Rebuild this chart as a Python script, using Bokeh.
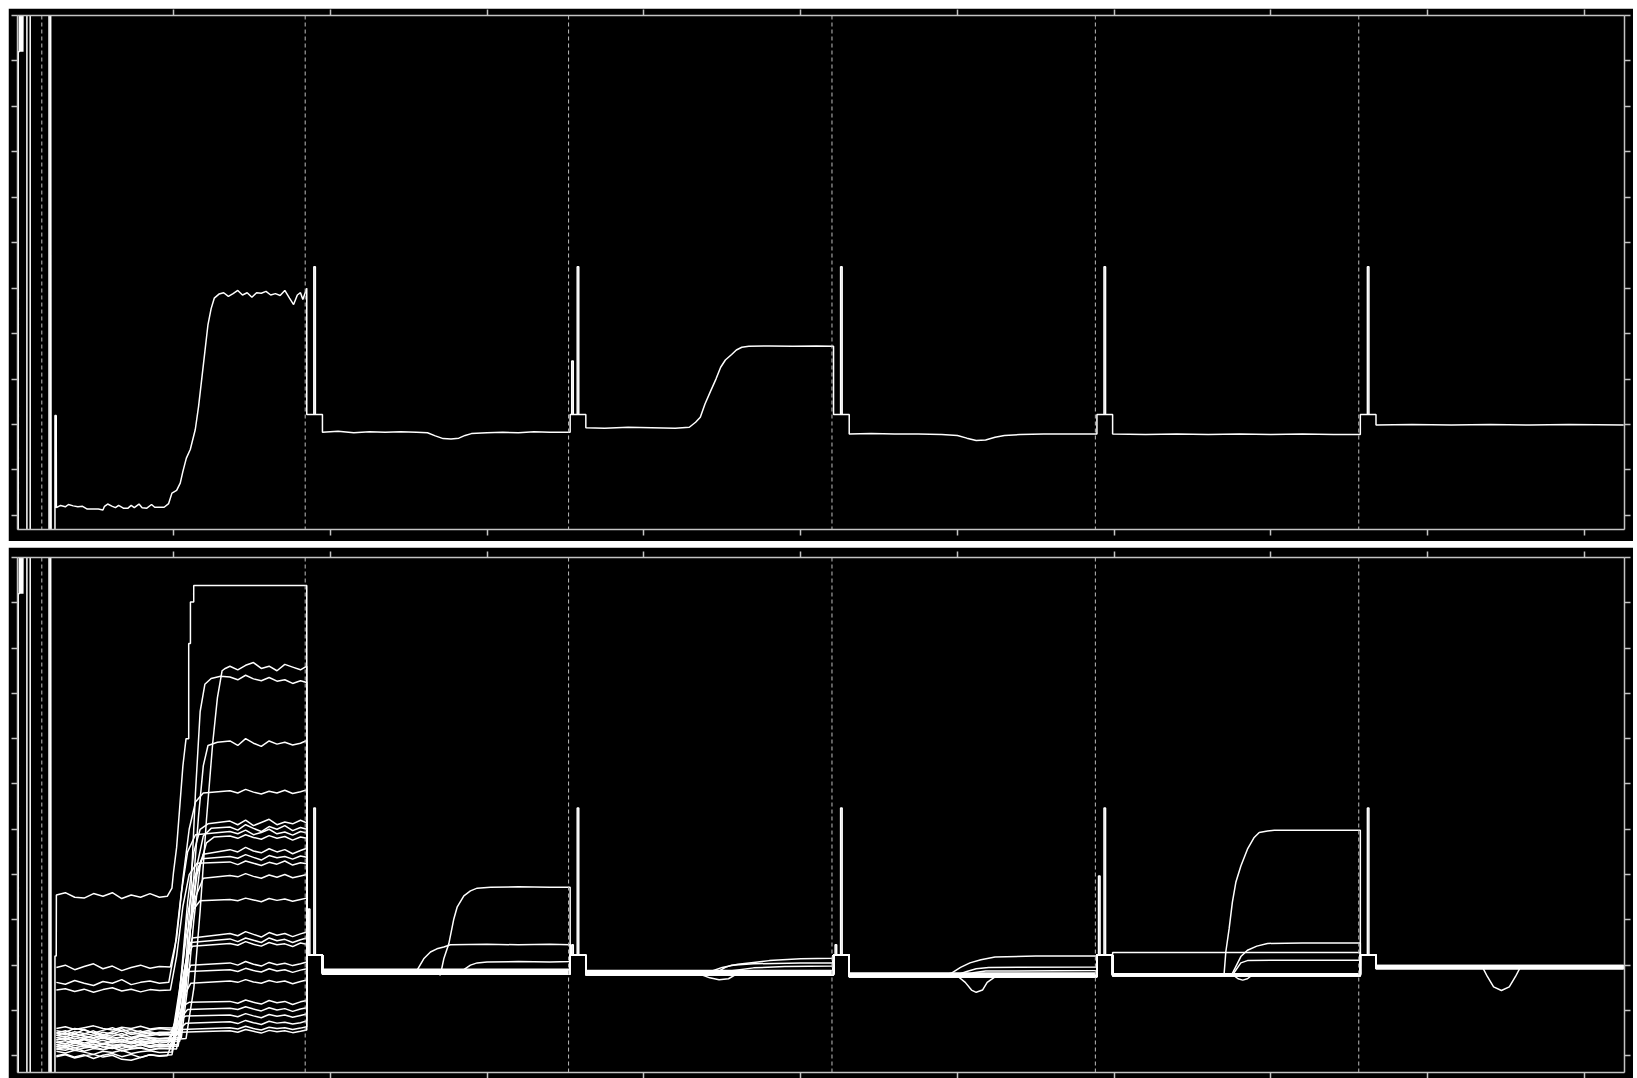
from bokeh.plotting import figure
from bokeh.models import Range1d, FixedTicker, LinearAxis, Span
from bokeh.layouts import column
from bokeh.embed import file_html
from bokeh.resources import INLINE

# ---------------- data ----------------
EPOCH_STARTS = [16, 184, 352, 520, 688, 856]
X_FIRST, X_LAST = 0.5, 1025.5
STEP_LEVEL = 2.22
SPIKE_LEVEL = 5.47
STEP_ON, STEP_OFF = 1, 11          # samples after an epoch start
SPIKE_ON, SPIKE_OFF = 5.5, 6.5
SEC_ON, SEC_OFF = 2.0, 3.0
X_TICKS = [100, 200, 300, 400, 500, 600, 700, 800, 900, 1000]
Y_TICKS = [0, 1, 2, 3, 4, 5, 6, 7, 8, 9, 10, 11]
TOP_Y_START, BOTTOM_Y_START, Y_END = -0.31, -0.37, 11.0

# start-up transient (values off the chart)
START_TRANSIENT = [(1.0, -3), (1.0, 10.2), (1.6, 10.2), (1.9, 14), (2.3, 10.2), (2.7, 14),
                   (3.1, 10.2), (3.5, 14), (3.9, 10.2), (4.2, 14), (6.5, 14), (6.5, -3),
                   (8.6, -3), (8.6, 14), (20.6, 14), (20.6, -3), (21.6, -3), (21.6, 14),
                   (22.0, -3), (24.4, -3), (24.4, 2.2), (25.2, 2.2)]

# ---- top panel: single signal, one list per epoch
TOP_E0 = [(25.3, 0.17), (28, 0.22), (31, 0.19), (33, 0.24), (36, 0.21), (39, 0.19), (42, 0.2),
          (45, 0.14), (48, 0.14), (52, 0.14), (55, 0.12), (56, 0.2), (58, 0.25), (61, 0.2),
          (63, 0.17), (65, 0.22), (68, 0.16), (71, 0.16), (73, 0.22), (75, 0.17), (78, 0.25),
          (80, 0.17), (83, 0.16), (86, 0.24), (88, 0.18), (91, 0.18), (94, 0.18), (96.9, 0.26),
          (99, 0.49), (102, 0.55), (104.3, 0.71), (106, 0.97), (108.2, 1.26), (110.7, 1.45),
          (113.9, 1.89), (116, 2.4), (118, 3.0), (120, 3.6), (122, 4.2), (124, 4.55), (126, 4.78),
          (129, 4.87), (132, 4.9), (135, 4.82), (138, 4.88), (141, 4.95), (144, 4.85), (147, 4.9),
          (150, 4.8), (153, 4.9), (156, 4.89), (159, 4.93), (162, 4.85), (165, 4.88), (168, 4.84),
          (171, 4.95), (174, 4.78), (176.6, 4.64), (179, 4.85), (181, 4.9), (182.5, 4.75), (185, 5.0)]
TOP_E1 = [(195, 1.83), (205, 1.85), (215, 1.82), (225, 1.84), (235, 1.83), (245, 1.84), (255, 1.83),
          (262, 1.82), (267, 1.75), (272, 1.69), (277, 1.68), (282, 1.7), (286, 1.76), (290, 1.8),
          (300, 1.82), (310, 1.83), (320, 1.82), (330, 1.84), (340, 1.83), (353, 1.83)]
TOP_E2 = [(363, 1.93), (375, 1.92), (390, 1.94), (405, 1.93), (420, 1.92), (429, 1.94), (433, 2.05),
          (436, 2.16), (439, 2.45), (442.5, 2.73), (446, 3.0), (449, 3.26), (452, 3.42), (456, 3.54),
          (459, 3.64), (462.5, 3.70), (467, 3.72), (480, 3.73), (495, 3.72), (510, 3.73), (521, 3.72)]
TOP_E3 = [(531, 1.79), (545, 1.8), (560, 1.79), (575, 1.79), (590, 1.78), (600, 1.76), (606, 1.7),
          (612, 1.65), (618, 1.66), (624, 1.72), (630, 1.76), (640, 1.78), (655, 1.79), (670, 1.79),
          (689, 1.79)]
TOP_E4 = [(699, 1.79), (720, 1.78), (740, 1.79), (760, 1.78), (780, 1.79), (800, 1.78), (820, 1.79),
          (840, 1.78), (857, 1.78)]
TOP_E5 = [(867, 1.99), (890, 2.0), (915, 1.99), (940, 2.0), (965, 1.99), (990, 2.0), (1025, 1.99)]
TOP_SECONDARY = {2: 3.4}

# ---- bottom panel, epoch 0: baseline on a shared grid, rise knots, plateau on a shared grid
E0_X_BASE = [25.3, 31, 37, 43, 49, 55, 61, 67, 73, 79, 85, 91]
E0_X_PLAT = [136, 141, 146, 151, 156, 161, 166, 171, 176, 181, 185]
E0_BASE = [
    [3.55, 3.6, 3.5, 3.48, 3.58, 3.52, 3.6, 3.47, 3.55, 3.5, 3.58, 3.5],
    [0.35, 0.4, 0.3, 0.38, 0.32, 0.42, 0.36, 0.3, 0.4, 0.34, 0.38, 0.33],
    [0.45, 0.5, 0.42, 0.48, 0.55, 0.46, 0.5, 0.44, 0.52, 0.47, 0.5, 0.45],
    [0.3, 0.26, 0.34, 0.28, 0.32, 0.24, 0.3, 0.36, 0.28, 0.31, 0.27, 0.33],
    [1.95, 2.0, 1.9, 1.97, 2.03, 1.92, 1.98, 1.88, 1.95, 2.0, 1.93, 1.97],
    [0.5, 0.55, 0.48, 0.58, 0.5, 0.45, 0.53, 0.6, 0.5, 0.55, 0.47, 0.52],
    [0.25, 0.2, 0.28, 0.22, 0.18, 0.26, 0.21, 0.24, 0.19, 0.27, 0.22, 0.25],
    [1.62, 1.58, 1.66, 1.6, 1.55, 1.64, 1.6, 1.68, 1.57, 1.62, 1.65, 1.6],
    [0.4, 0.36, 0.43, 0.38, 0.45, 0.4, 0.35, 0.42, 0.38, 0.44, 0.4, 0.37],
    [0.2, 0.24, 0.17, 0.22, 0.26, 0.19, 0.23, 0.16, 0.21, 0.25, 0.18, 0.22],
    [0.55, 0.52, 0.6, 0.57, 0.5, 0.56, 0.62, 0.54, 0.58, 0.52, 0.57, 0.6],
    [1.45, 1.48, 1.42, 1.47, 1.4, 1.46, 1.5, 1.43, 1.47, 1.41, 1.46, 1.44],
    [0.15, 0.12, 0.18, 0.1, 0.16, 0.13, 0.19, 0.11, 0.15, 0.17, 0.12, 0.16],
    [0.6, 0.64, 0.58, 0.62, 0.66, 0.6, 0.57, 0.63, 0.6, 0.65, 0.59, 0.62],
    [0.3, 0.33, 0.28, 0.35, 0.3, 0.27, 0.32, 0.36, 0.29, 0.33, 0.3, 0.34],
    [0.1, 0.06, 0.12, 0.08, 0.03, 0.1, 0.07, 0.12, 0.05, 0.09, 0.11, 0.07],
    [0.45, 0.42, 0.48, 0.44, 0.4, 0.47, 0.43, 0.49, 0.41, 0.46, 0.44, 0.48],
    [0.2, 0.17, 0.23, 0.19, 0.25, 0.2, 0.16, 0.22, 0.18, 0.24, 0.2, 0.21],
    [0.35, 0.38, 0.32, 0.37, 0.34, 0.39, 0.33, 0.36, 0.31, 0.38, 0.35, 0.33],
    [0.0, 0.04, -0.03, 0.02, -0.06, 0.01, 0.05, -0.02, 0.03, -0.04, 0.02, 0.0],
    [0.5, 0.47, 0.53, 0.49, 0.45, 0.52, 0.48, 0.55, 0.47, 0.5, 0.53, 0.48],
    [0.15, 0.18, 0.12, 0.17, 0.2, 0.14, 0.18, 0.11, 0.16, 0.19, 0.13, 0.17],
    [0.3, 0.27, 0.32, 0.25, 0.3, 0.34, 0.28, 0.31, 0.26, 0.3, 0.33, 0.28],
    [-0.02, 0.02, -0.05, 0.0, 0.03, -0.03, 0.01, -0.08, -0.1, -0.04, 0.02, -0.01],
    [0.4, 0.43, 0.37, 0.42, 0.38, 0.44, 0.39, 0.41, 0.36, 0.43, 0.4, 0.38],
    [0.25, 0.22, 0.28, 0.24, 0.2, 0.27, 0.23, 0.26, 0.21, 0.25, 0.28, 0.23],
]
E0_RISE = [
    [(96, 3.52), (99, 3.7), (100, 4.05), (102, 4.6), (104, 5.5), (106, 6.4), (108, 7.0), (109.7, 7.0),
     (109.7, 9.1), (110.8, 9.1), (110.8, 10.02), (112.9, 10.02), (112.9, 10.38)],
    [(108, 0.38), (113, 1.5), (117, 3.2), (121, 5.2), (125, 6.9), (128, 7.9), (131, 8.5), (133, 8.55)],
    [(103, 0.48), (107, 1.6), (111, 3.6), (114, 5.8), (117, 7.6), (120, 8.2), (124, 8.33), (130, 8.38)],
    [(104, 0.32), (108, 1.5), (112, 3.5), (116, 5.3), (119, 6.4), (122, 6.85), (128, 6.92)],
    [(98, 1.96), (102, 2.6), (106, 3.9), (110, 5.0), (114, 5.6), (119, 5.8)],
    [(101, 0.52), (105, 1.8), (109, 3.4), (113, 4.5), (117, 5.0), (122, 5.12)],
    [(103, 0.24), (107, 1.2), (111, 2.9), (115, 4.2), (119, 4.85), (124, 5.02)],
    [(97, 1.62), (101, 2.4), (105, 3.6), (109, 4.5), (114, 4.88)],
    [(105, 0.4), (109, 1.5), (113, 3.0), (117, 4.2), (121, 4.7), (126, 4.83)],
    [(103, 0.21), (107, 1.4), (111, 2.9), (115, 4.0), (119, 4.45)],
    [(101, 0.56), (105, 1.7), (109, 3.1), (113, 3.9), (118, 4.35)],
    [(98, 1.45), (102, 2.2), (106, 3.3), (110, 4.0), (115, 4.25)],
    [(102, 0.15), (106, 1.3), (110, 2.6), (114, 3.5), (119, 3.92)],
    [(100, 0.61), (104, 1.5), (108, 2.6), (112, 3.2), (117, 3.42)],
    [(100, 0.32), (104, 1.2), (108, 2.1), (112, 2.6)],
    [(99, 0.08), (103, 0.9), (107, 1.9), (111, 2.5)],
    [(100, 0.45), (104, 1.3), (108, 2.1), (112, 2.42)],
    [(99, 0.2), (103, 0.9), (107, 1.7), (111, 2.0)],
    [(98, 0.34), (102, 0.9), (106, 1.6), (110, 1.86)],
    [(99, 0.02), (103, 0.7), (107, 1.35), (111, 1.6)],
    [(98, 0.5), (102, 0.8), (106, 1.1), (110, 1.18)],
    [(97, 0.16), (101, 0.5), (105, 0.85), (109, 1.02)],
    [(96, 0.3), (100, 0.55), (104, 0.8), (108, 0.88)],
    [(96, 0.0), (100, 0.35), (104, 0.6), (108, 0.72)],
    [(97, 0.4), (101, 0.5), (105, 0.58)],
    [(96, 0.25), (100, 0.4), (104, 0.52)],
]
E0_PLAT = [
    [10.38, 10.38, 10.38, 10.38, 10.38, 10.38, 10.38, 10.38, 10.38, 10.38, 10.38],
    [8.6, 8.52, 8.62, 8.68, 8.55, 8.6, 8.5, 8.64, 8.58, 8.52, 8.6],
    [8.36, 8.3, 8.4, 8.32, 8.28, 8.35, 8.27, 8.3, 8.22, 8.28, 8.24],
    [6.95, 6.85, 7.0, 6.9, 6.83, 6.95, 6.88, 6.92, 6.86, 6.9, 6.96],
    [5.85, 5.8, 5.88, 5.82, 5.78, 5.84, 5.8, 5.86, 5.79, 5.83, 5.87],
    [5.18, 5.1, 5.2, 5.08, 5.15, 5.22, 5.1, 5.16, 5.12, 5.2, 5.14],
    [5.05, 4.98, 5.1, 5.02, 4.95, 5.06, 5.0, 5.08, 4.97, 5.04, 5.0],
    [4.95, 4.9, 4.98, 4.88, 4.93, 5.0, 4.9, 4.94, 4.87, 4.95, 4.92],
    [4.85, 4.8, 4.88, 4.82, 4.78, 4.86, 4.8, 4.84, 4.76, 4.83, 4.8],
    [4.55, 4.5, 4.6, 4.52, 4.48, 4.57, 4.5, 4.55, 4.46, 4.53, 4.58],
    [4.4, 4.36, 4.44, 4.38, 4.32, 4.42, 4.37, 4.4, 4.34, 4.41, 4.38],
    [4.28, 4.22, 4.3, 4.25, 4.2, 4.27, 4.23, 4.3, 4.21, 4.26, 4.24],
    [3.98, 3.95, 4.02, 3.96, 3.92, 3.99, 3.94, 4.0, 3.93, 3.97, 4.0],
    [3.45, 3.42, 3.48, 3.44, 3.4, 3.47, 3.43, 3.46, 3.41, 3.45, 3.48],
    [2.7, 2.65, 2.74, 2.68, 2.62, 2.72, 2.66, 2.7, 2.63, 2.69, 2.73],
    [2.58, 2.52, 2.6, 2.55, 2.5, 2.6, 2.54, 2.57, 2.5, 2.56, 2.6],
    [2.48, 2.44, 2.52, 2.46, 2.42, 2.5, 2.45, 2.47, 2.41, 2.49, 2.46],
    [2.05, 2.0, 2.08, 2.02, 1.98, 2.06, 2.01, 2.04, 1.99, 2.03, 2.07],
    [1.9, 1.86, 1.93, 1.88, 1.85, 1.92, 1.87, 1.9, 1.84, 1.89, 1.92],
    [1.65, 1.62, 1.68, 1.63, 1.6, 1.66, 1.62, 1.65, 1.59, 1.64, 1.67],
    [1.2, 1.16, 1.23, 1.18, 1.14, 1.22, 1.17, 1.2, 1.13, 1.19, 1.22],
    [1.05, 1.02, 1.08, 1.03, 0.99, 1.06, 1.01, 1.04, 0.98, 1.03, 1.06],
    [0.9, 0.86, 0.93, 0.88, 0.84, 0.91, 0.87, 0.9, 0.85, 0.89, 0.92],
    [0.75, 0.71, 0.78, 0.73, 0.69, 0.76, 0.72, 0.74, 0.7, 0.73, 0.77],
    [0.62, 0.59, 0.65, 0.6, 0.57, 0.63, 0.6, 0.62, 0.58, 0.61, 0.64],
    [0.55, 0.52, 0.58, 0.54, 0.5, 0.56, 0.53, 0.55, 0.51, 0.54, 0.57],
]
# resting level of each bottom trace in epochs 1..5
REST_LEVELS = [
    [1.86, 1.84, 1.78, 1.79, 1.95], [1.92, 1.83, 1.77, 1.80, 1.96], [1.88, 1.86, 1.80, 1.78, 1.94],
    [1.84, 1.80, 1.75, 1.77, 1.97], [1.83, 1.86, 1.79, 1.81, 1.93], [1.81, 1.84, 1.76, 1.78, 1.98],
    [1.90, 1.85, 1.82, 1.76, 1.95], [1.85, 1.80, 1.74, 1.79, 1.92], [1.87, 1.83, 1.78, 1.80, 1.96],
    [1.82, 1.78, 1.79, 1.77, 1.99], [1.89, 1.87, 1.77, 1.81, 1.94], [1.80, 1.82, 1.76, 1.78, 1.97],
    [1.86, 1.79, 1.80, 2.28, 1.95], [1.84, 1.85, 1.75, 1.80, 1.93], [1.91, 1.81, 1.81, 1.79, 1.96],
    [1.83, 1.88, 1.78, 1.80, 1.98], [1.85, 1.84, 1.74, 1.78, 1.94], [1.81, 1.80, 1.80, 1.77, 1.95],
    [1.88, 1.83, 1.77, 1.81, 1.97], [1.82, 1.86, 1.79, 1.79, 1.93], [1.86, 1.78, 1.76, 1.78, 1.95],
    [1.84, 1.82, 1.82, 1.80, 1.99], [1.90, 1.85, 1.75, 1.76, 1.92], [1.80, 1.81, 1.78, 1.81, 1.96],
    [1.87, 1.87, 1.80, 1.79, 1.94], [1.83, 1.79, 1.77, 1.78, 1.98],
]
# (trace, epoch) -> knots of traces that respond in that epoch
SPECIAL = {
    (1, 1): [(195, 1.86), (240, 1.87), (268, 1.86), (270.2, 1.78), (272.4, 2.14), (275.6, 2.47),
             (278.8, 3.02), (280.9, 3.28), (285.2, 3.53), (289.4, 3.64), (293.7, 3.70), (302.2, 3.72),
             (320, 3.73), (340, 3.72), (353, 3.72)],
    (2, 1): [(195, 1.88), (230, 1.89), (255.4, 1.89), (259.6, 2.14), (263.9, 2.29), (268, 2.36),
             (272.4, 2.40), (276.6, 2.45), (300, 2.46), (320, 2.45), (340, 2.46), (353, 2.45)],
    (3, 1): [(195, 1.84), (240, 1.83), (283.1, 1.85), (289.4, 2.0), (293.7, 2.05), (300, 2.07),
             (320, 2.08), (340, 2.07), (353, 2.08)],
    (4, 2): [(363, 1.86), (400, 1.86), (443.6, 1.87), (450, 1.95), (460, 2.02), (470, 2.06), (480, 2.1),
             (500, 2.14), (521, 2.15)],
    (5, 2): [(363, 1.84), (420, 1.84), (447, 1.85), (452, 1.95), (456, 2.0), (470, 2.03), (500, 2.05),
             (521, 2.05)],
    (6, 2): [(363, 1.85), (430, 1.85), (455, 1.87), (470, 1.94), (490, 1.97), (521, 1.98)],
    (7, 2): [(363, 1.8), (436, 1.8), (442, 1.72), (448, 1.68), (454, 1.7), (458, 1.78), (521, 1.8)],
    (8, 3): [(531, 1.78), (590, 1.78), (596, 1.82), (602, 1.95), (608, 2.05), (615, 2.12), (624, 2.18),
             (650, 2.2), (689, 2.2)],
    (9, 3): [(531, 1.79), (600, 1.79), (606, 1.86), (612, 1.92), (620, 1.95), (689, 1.96)],
    (10, 3): [(531, 1.77), (604, 1.77), (610, 1.83), (618, 1.87), (689, 1.88)],
    (11, 3): [(531, 1.76), (600, 1.76), (605, 1.62), (609, 1.45), (612, 1.4), (616, 1.45), (619, 1.62),
              (624, 1.74), (689, 1.76)],
    (13, 4): [(699, 1.8), (770.1, 1.8), (771.2, 2.29), (773.3, 2.80), (775.4, 3.39), (777.6, 3.83),
              (780.8, 4.19), (785, 4.56), (789.3, 4.82), (792.5, 4.93), (797.8, 4.96), (802.1, 4.98),
              (830, 4.98), (857, 4.98)],
    (14, 4): [(699, 1.79), (775, 1.79), (780.8, 2.19), (785, 2.33), (791, 2.42), (797.8, 2.48),
              (820, 2.49), (857, 2.49)],
    (15, 4): [(699, 1.8), (776, 1.81), (780.8, 2.05), (785, 2.1), (800, 2.11), (857, 2.11)],
    (16, 4): [(699, 1.78), (776, 1.78), (779, 1.7), (782, 1.67), (785, 1.7), (788, 1.78), (857, 1.78)],
    (17, 5): [(867, 1.95), (935, 1.95), (938, 1.75), (942, 1.52), (947, 1.44), (952, 1.52), (956, 1.75),
              (959, 1.95), (1025, 1.95)],
}
BOTTOM_SECONDARY = {1: 3.24, 2: 2.45, 3: 2.45, 4: 3.97}


# ---------------- build paths ----------------
def epoch_end(k):
    return EPOCH_STARTS[k + 1] + STEP_ON if k + 1 < len(EPOCH_STARTS) else 1025


def join_epochs(first_pts, segments):
    xs = [p[0] for p in first_pts]
    ys = [p[1] for p in first_pts]
    for k, seg in enumerate(segments):
        if k > 0:
            b = EPOCH_STARTS[k]
            pts = [(b + STEP_ON, ys[-1]), (b + STEP_ON, STEP_LEVEL),
                   (b + STEP_OFF, STEP_LEVEL), (b + STEP_OFF, seg[0][1])]
            xs += [p[0] for p in pts]
            ys += [p[1] for p in pts]
        xs += [p[0] for p in seg]
        ys += [p[1] for p in seg]
    return xs, ys


def spikes(secondary):
    out_x, out_y = [], []
    for k, b in enumerate(EPOCH_STARTS):
        if k == 0:
            continue
        out_x.append([b + SPIKE_ON, b + SPIKE_ON, b + SPIKE_OFF, b + SPIKE_OFF])
        out_y.append([STEP_LEVEL, SPIKE_LEVEL, SPIKE_LEVEL, STEP_LEVEL])
        if k in secondary:
            h = secondary[k]
            out_x.append([b + SEC_ON, b + SEC_ON, b + SEC_OFF, b + SEC_OFF])
            out_y.append([STEP_LEVEL, h, h, STEP_LEVEL])
    return out_x, out_y


top_x, top_y = join_epochs(START_TRANSIENT, [TOP_E0, TOP_E1, TOP_E2, TOP_E3, TOP_E4, TOP_E5])
top_xs, top_ys = [top_x], [top_y]
sx, sy = spikes(TOP_SECONDARY)
top_xs += sx
top_ys += sy

bot_xs, bot_ys = [], []
for i in range(len(E0_BASE)):
    seg0 = list(zip(E0_X_BASE, E0_BASE[i])) + E0_RISE[i] + list(zip(E0_X_PLAT, E0_PLAT[i]))
    segs = [seg0]
    for k in range(1, 6):
        if (i, k) in SPECIAL:
            segs.append(SPECIAL[(i, k)])
        else:
            lvl = REST_LEVELS[i][k - 1]
            segs.append([(EPOCH_STARTS[k] + STEP_OFF, lvl), (epoch_end(k), lvl)])
    first = START_TRANSIENT if i == 0 else []
    x, y = join_epochs(first, segs)
    bot_xs.append(x)
    bot_ys.append(y)
sx, sy = spikes(BOTTOM_SECONDARY)
bot_xs += sx
bot_ys += sy


# ---------------- figures ----------------
AXIS_COLOR = "#c4c4c4"


def make_fig(height, y_start, border_top, border_bottom):
    p = figure(width=1625, height=height, x_range=Range1d(X_FIRST, X_LAST),
               y_range=Range1d(y_start, Y_END), output_backend="svg", toolbar_location=None,
               background_fill_color="black", border_fill_color="black",
               min_border_left=9, min_border_right=9, min_border_top=border_top,
               min_border_bottom=border_bottom, outline_line_color=None)
    p.xgrid.visible = False
    p.ygrid.visible = False
    p.add_layout(LinearAxis(), "above")
    p.add_layout(LinearAxis(), "right")
    for ax in p.xaxis:
        ax.ticker = FixedTicker(ticks=X_TICKS)
    for ax in p.yaxis:
        ax.ticker = FixedTicker(ticks=Y_TICKS)
    for ax in p.axis:
        ax.axis_line_color = AXIS_COLOR
        ax.axis_line_width = 1.5
        ax.major_tick_line_color = AXIS_COLOR
        ax.major_tick_line_width = 1.5
        ax.major_tick_out = 6
        ax.major_tick_in = 0
        ax.minor_tick_line_color = None
        ax.major_label_text_color = None
        ax.major_label_text_font_size = "0px"
        ax.major_label_standoff = 0
        ax.axis_label = None
    for b in EPOCH_STARTS:
        p.add_layout(Span(location=b, dimension="height", line_color="#bdbdbd",
                          line_dash="4 3", line_width=1))
    return p


p1 = make_fig(533, TOP_Y_START, 7, 12)
p1.multi_line(xs=top_xs, ys=top_ys, line_color="white", line_width=1.5)

p2 = make_fig(531, BOTTOM_Y_START, 10, 6)
p2.multi_line(xs=bot_xs, ys=bot_ys, line_color="white", line_width=1.5)

layout = column(p1, p2, spacing=6, margin=(8, 0, 0, 8))
open("out.html", "w").write(file_html(layout, INLINE))
